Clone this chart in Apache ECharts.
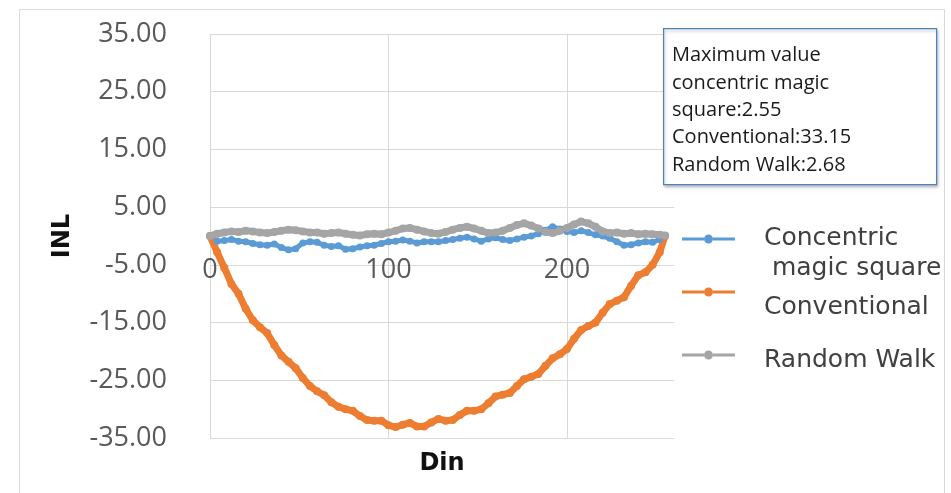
<!DOCTYPE html>
<html>
<head>
<meta charset="utf-8">
<script src="https://cdn.jsdelivr.net/npm/echarts@6/dist/echarts.min.js"></script>
<style>
html,body{margin:0;padding:0;background:#fff;}
#chart{width:951px;height:493px;}
</style>
</head>
<body>
<div id="chart"></div>
<script>
// ---- data ----
var dinValues = [0,4,8,12,16,20,24,28,32,36,40,44,48,52,56,60,64,68,72,76,80,84,88,92,96,100,104,108,112,116,120,124,128,132,136,140,144,148,152,156,160,164,168,172,176,180,184,188,192,196,200,204,208,212,216,220,224,228,232,236,240,244,248,252,255];

var concentricValues = [0,-0.9,-0.8,-0.6,-0.9,-1.0,-1.3,-1.5,-1.6,-1.4,-2.0,-2.4,-2.2,-1.2,-1.0,-1.1,-1.6,-1.8,-1.7,-2.3,-2.2,-1.9,-1.7,-1.6,-1.3,-1.0,-0.9,-0.7,-0.9,-1.2,-1.0,-1.0,-1.0,-0.8,-0.6,-0.4,-0.2,-0.5,-0.9,-0.5,-0.3,-0.6,-0.8,-0.5,-0.2,0.0,0.4,1.0,1.6,1.2,0.8,0.6,0.9,0.6,0.2,0.0,-0.4,-1.0,-1.6,-1.5,-1.2,-1.0,-1.1,-0.6,0.0];

var conventionalValues = [0,-2.8,-5.5,-8.3,-10.0,-12.6,-14.6,-15.8,-16.8,-18.9,-20.7,-21.8,-22.9,-24.6,-26.0,-26.9,-27.6,-28.8,-29.6,-30.0,-30.3,-31.2,-31.9,-32.0,-32.0,-32.8,-33.1,-32.7,-32.4,-33.0,-33.0,-32.3,-31.7,-32.0,-31.9,-31.0,-30.3,-30.3,-30.0,-29.0,-27.8,-27.5,-27.2,-26.0,-24.8,-24.4,-23.9,-22.5,-21.2,-20.5,-19.6,-17.8,-16.3,-15.6,-15.0,-13.3,-11.8,-11.2,-10.6,-8.6,-6.8,-6.3,-5.0,-2.8,0];

var randomWalkValues = [0,0.4,0.6,0.8,0.7,0.9,0.8,0.6,0.5,0.7,0.9,1.1,1.0,0.8,0.6,0.6,0.4,0.5,0.6,0.4,0.2,0.1,0.3,0.4,0.3,0.6,0.9,1.3,1.4,1.1,0.8,0.5,0.4,0.7,1.1,1.4,1.6,1.3,0.9,0.5,0.6,0.9,1.4,1.9,2.2,1.8,1.3,0.7,0.5,0.9,1.4,2.0,2.5,2.2,1.6,0.8,0.5,0.6,0.4,0.5,0.3,0.4,0.3,0.2,0.1];

var seriesNames = ['Concentric magic square', 'Conventional', 'Random Walk'];
var seriesColors = ['#5B9BD5', '#ED7D31', '#A5A5A5'];
var yMin = -35, yMax = 35, yStep = 10;
var xMin = 0, xMax = 260, xStep = 100;
var noteLines = ['Maximum value', 'concentric magic', 'square:2.55', 'Conventional:33.15', 'Random Walk:2.68'];

function pairs(vals){ return dinValues.map(function(x,i){ return [x, vals[i]]; }); }

var chart = echarts.init(document.getElementById('chart'));

function mkSeries(name, vals, color, w, size){
  return {
    name: name, type: 'line', data: pairs(vals),
    symbol: 'circle', symbolSize: size, showSymbol: true,
    lineStyle: {color: color, width: w, cap: 'round', join: 'round'},
    itemStyle: {color: color},
    animation: false
  };
}

var legendIcon = 'path://M0,3 L22,3 L22,6 L0,6 Z M31,3 L53,3 L53,6 L31,6 Z M22,4.5 A4.5,4.5 0 1,1 31,4.5 A4.5,4.5 0 1,1 22,4.5 Z';

var legendRich = {
  s: {fontSize: 10, lineHeight: 10},
  s28: {fontSize: 10, lineHeight: 28},
  s30: {fontSize: 10, lineHeight: 30},
  t: {fontFamily: 'DejaVu Sans', fontSize: 25, color: '#404040', lineHeight: 30}
};

function mkLegend(name, top, fmt){
  return {
    data: [name], orient: 'vertical', left: 682, top: top, padding: 0,
    itemWidth: 53, itemHeight: 9, icon: legendIcon,
    formatter: fmt,
    textStyle: {fontFamily: 'DejaVu Sans', fontSize: 25, color: '#404040', padding: [0, 0, 0, 24], rich: legendRich}
  };
}

var option = {
  backgroundColor: '#ffffff',
  animation: false,
  grid: {left: 210, right: 277, top: 34, bottom: 55, containLabel: false, outerBoundsMode: 'none'},
  xAxis: {
    type: 'value', min: xMin, max: xMax, interval: xStep,
    position: 'bottom', offset: -202,
    name: 'Din', nameLocation: 'middle', nameGap: 216,
    nameTextStyle: {fontFamily: 'DejaVu Sans', fontSize: 24, fontWeight: 'bold', color: '#111'},
    axisLine: {show: false, onZero: false}, axisTick: {show: false},
    axisLabel: {fontFamily: 'Open Sans', fontSize: 27, color: '#595959', margin: 21, showMaxLabel: false},
    splitLine: {show: true, showMaxLine: false, lineStyle: {color: '#d9d9d9', width: 1}}
  },
  yAxis: {
    type: 'value', min: yMin, max: yMax, interval: yStep,
    name: 'INL', nameLocation: 'middle', nameGap: 135,
    nameTextStyle: {fontFamily: 'DejaVu Sans', fontSize: 24, fontWeight: 'bold', color: '#111'},
    axisLine: {show: false}, axisTick: {show: false},
    axisLabel: {fontFamily: 'Open Sans', fontSize: 27, color: '#595959', margin: 43,
      formatter: function(v){ return v.toFixed(2); }},
    splitLine: {show: true, lineStyle: {color: '#d9d9d9', width: 1}}
  },
  legend: [
    mkLegend(seriesNames[0], 204, function(){ return '{s28| }\n{t|Concentric}\n{t| magic square}'; }),
    mkLegend(seriesNames[1], 272, function(n){ return '{s30| }\n{t|' + n + '}'; }),
    mkLegend(seriesNames[2], 335, function(n){ return '{s| }\n{t|' + n + '}'; })
  ],
  series: [
    mkSeries(seriesNames[0], concentricValues, seriesColors[0], 5, 7),
    mkSeries(seriesNames[1], conventionalValues, seriesColors[1], 7, 8),
    mkSeries(seriesNames[2], randomWalkValues, seriesColors[2], 7, 8)
  ],
  graphic: [
    {type: 'rect', left: 17, top: 7, shape: {width: 925, height: 500},
     style: {fill: 'none', stroke: '#d9d9d9', lineWidth: 1}, silent: true, z: -1},
    {type: 'rect', left: 663, top: 28, shape: {width: 273, height: 156},
     style: {fill: '#fff', stroke: '#4F81BD', lineWidth: 1.2, shadowBlur: 3, shadowOffsetX: 1, shadowOffsetY: 2, shadowColor: 'rgba(0,0,0,0.25)'}, z: 10},
    {type: 'text', left: 672, top: 42, z: 11,
     style: {text: noteLines.join('\n'), fontFamily: 'Open Sans', fontSize: 20, lineHeight: 27.3, fill: '#1a1a1a'}}
  ]
};
chart.setOption(option);
</script>
</body>
</html>
